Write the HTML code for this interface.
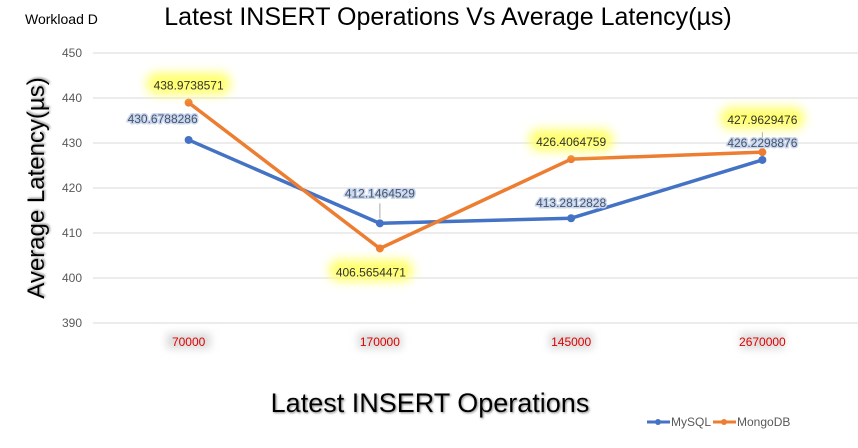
<!DOCTYPE html>
<html><head><meta charset="utf-8"><style>
body{margin:0;background:#fff;}
svg{display:block;font-family:"Liberation Sans",sans-serif;}
</style></head><body>
<svg id="chart" width="858" height="448">
<defs>
<filter id="glowY" x="-30%" y="-80%" width="160%" height="260%"><feGaussianBlur stdDeviation="5"/></filter>
<filter id="glowG" x="-30%" y="-80%" width="160%" height="260%"><feGaussianBlur stdDeviation="4"/></filter>
<filter id="sh"><feDropShadow dx="1" dy="1" stdDeviation="1" flood-color="#888"/></filter>
</defs>
<text x="25" y="24" font-size="14" fill="#000">Workload D</text>
<text x="448" y="25" font-size="25" text-anchor="middle" fill="#000">Latest INSERT Operations Vs Average Latency(µs)</text>
<text transform="translate(44,188) rotate(-90)" font-size="24" text-anchor="middle" fill="#000" filter="url(#sh)">Average Latency(µs)</text>
<text x="430" y="412" font-size="27" text-anchor="middle" fill="#000" filter="url(#sh)">Latest INSERT Operations</text>
<g id="grid"></g><g id="xt"></g><g id="series"></g><g id="labels"></g>
<g>
<g><line x1="647" y1="422" x2="670" y2="422" stroke="#4472C4" stroke-width="3"/><circle cx="658" cy="422" r="3" fill="#4472C4"/><text x="671" y="426" font-size="12" fill="#595959">MySQL</text></g>
<g><line x1="713" y1="422" x2="736" y2="422" stroke="#ED7D31" stroke-width="3"/><circle cx="724" cy="422" r="3" fill="#ED7D31"/><text x="737" y="426" font-size="12" fill="#595959">MongoDB</text></g>
</g>
</svg>
<script>
const categories=["70000","170000","145000","2670000"];
const mysql=[430.6788286,412.1464529,413.2812828,426.2298876];
const mongo=[438.9738571,406.5654471,426.4064759,427.9629476];
const yTicks=[390,400,410,420,430,440,450];
const NS="http://www.w3.org/2000/svg";
const x0=93,x1=858,yTop=53,yBot=323,yMin=390,yMax=450;
const xs=i=>x0+(x1-x0)/categories.length*(i+0.5);
const ys=v=>yBot-(v-yMin)/(yMax-yMin)*(yBot-yTop);
function mk(t,a,p){const e=document.createElementNS(NS,t);for(const k in a)e.setAttribute(k,a[k]);p.appendChild(e);return e;}
const grid=document.getElementById('grid');
yTicks.forEach(v=>{
 const l=mk('line',{x1:x0,x2:x1,y1:ys(v),y2:ys(v),stroke:'#d9d9d9','stroke-width':1},grid);
 
 
 const t=mk('text',{x:82,y:ys(v)+4,'font-size':12,'text-anchor':'end',fill:'#595959'},grid);
 t.textContent=v;
 
 
});
const xt=document.getElementById('xt');
categories.forEach((c,i)=>{
 mk('rect',{x:xs(i)-22,y:333,width:44,height:16,fill:'#ddd',filter:'url(#glowG)'},xt);
 const t=mk('text',{x:xs(i),y:346,'font-size':12,'text-anchor':'middle',fill:'#e00000'},xt);
 t.textContent=c;
 
 
});
const ser=document.getElementById('series');
function draw(d,col,name){
 const p=mk('polyline',{points:d.map((v,i)=>xs(i)+','+ys(v)).join(' '),fill:'none',stroke:col,'stroke-width':3.5,'stroke-linejoin':'round'},ser);
 
 
 d.forEach((v,i)=>{const c=mk('circle',{cx:xs(i),cy:ys(v),r:4,fill:col},ser);
  
  });
}
draw(mysql,'#4472C4','mysql');draw(mongo,'#ED7D31','mongodb');
const lab=document.getElementById('labels');
const myOff=[[-26,-21],[0,-30],[0,-15],[0,-17]];
const moOff=[[0,-17],[-9,24],[0,-17],[0,-32]];
function labels(d,off,col,glow,name){
 d.forEach((v,i)=>{
  const x=xs(i)+off[i][0],y=ys(v)+off[i][1];
  if(glow)mk('rect',{x:x-42,y:y-13,width:84,height:22,rx:10,fill:'#ffff70',filter:'url(#glowY)'},lab);
  const t=mk('text',{x:x,y:y+4,'font-size':12,'text-anchor':'middle',fill:col},lab);
  if(!glow)t.setAttribute('style','paint-order:stroke;stroke:#c9d6ee;stroke-width:3px');
  t.textContent=v.toFixed(7);
  
  
 });
}
mk('line',{x1:xs(1),y1:ys(mysql[1])-5,x2:xs(1),y2:ys(mysql[1])-20,stroke:'#a6a6a6'},lab);
mk('line',{x1:xs(3),y1:ys(mongo[3])-5,x2:xs(3),y2:ys(mongo[3])-20,stroke:'#a6a6a6'},lab);
labels(mysql,myOff,'#44546A',false,'mysql');
labels(mongo,moOff,'#333',true,'mongodb');
</script>
</body></html>
